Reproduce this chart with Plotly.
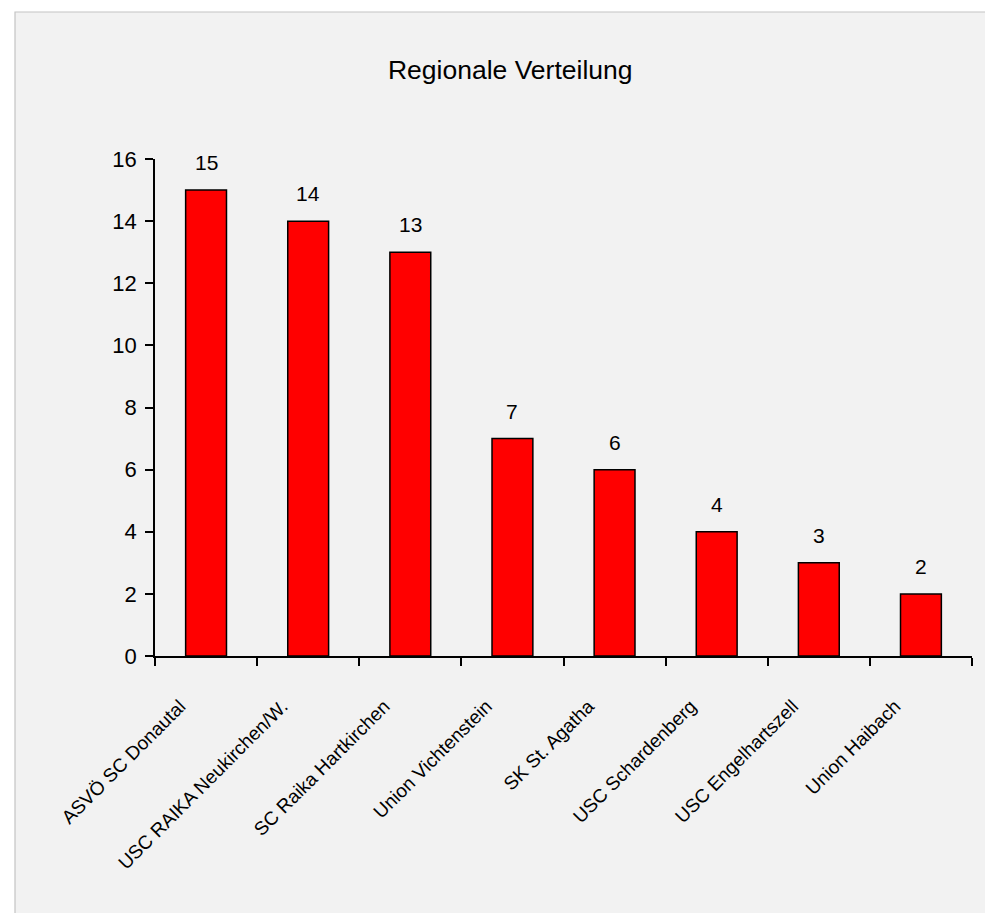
import plotly.graph_objects as go

categories = ["ASVÖ SC Donautal", "USC RAIKA Neukirchen/W.", "SC Raika Hartkirchen",
              "Union Vichtenstein", "SK St. Agatha", "USC Schardenberg",
              "USC Engelhartszell", "Union Haibach"]
values = [15, 14, 13, 7, 6, 4, 3, 2]
y_ticks = [0, 2, 4, 6, 8, 10, 12, 14, 16]
title_text = "Regionale Verteilung"

W, H = 985, 913
L, R, T, B = 155, 13, 159, 257
pw, ph = W - L - R, H - T - B

def px_x(px):
    return (px - L) / pw

def px_y(py):
    return (H - B - py) / ph

font_family = "Liberation Sans, Arial, sans-serif"

fig = go.Figure(go.Bar(
    x=categories, y=values,
    marker=dict(color="#ff0000", line=dict(color="#000000", width=1.5)),
    width=0.4,
    hoverinfo="x+y",
))

for c, v in zip(categories, values):
    fig.add_annotation(x=c, y=v, text=str(v), showarrow=False, xanchor="center",
                       yanchor="bottom", yshift=14,
                       font=dict(family=font_family, size=21, color="#000000"))

fig.add_shape(type="rect", xref="paper", yref="paper",
              x0=px_x(15), x1=px_x(1000), y0=px_y(1000), y1=px_y(12),
              fillcolor="#f2f2f2", line=dict(color="#c4c4c4", width=1.2),
              layer="below")

fig.update_layout(
    width=W, height=H,
    margin=dict(l=L, r=R, t=T, b=B, pad=0),
    paper_bgcolor="#ffffff",
    plot_bgcolor="rgba(0,0,0,0)",
    showlegend=False,
    title=dict(text=title_text, x=0.518, xanchor="center", y=1 - 70 / H, yanchor="middle",
               font=dict(family=font_family, size=26.5, color="#000000")),
    xaxis=dict(type="category", range=[-0.5, 7.5], showline=True, linecolor="#000000",
               linewidth=1.5, ticks="outside", ticklen=8, tickcolor="#000000", tickwidth=1.5,
               tickson="boundaries", tickangle=-45, showgrid=False, zeroline=False,
               ticklabelshift=-26, ticklabelstandoff=30,
               tickfont=dict(family=font_family, size=19, color="#000000")),
    yaxis=dict(range=[0, 16], tickvals=y_ticks, showline=True, linecolor="#000000",
               linewidth=1.5, ticks="outside", ticklen=8, tickcolor="#000000", tickwidth=1.5,
               showgrid=False, zeroline=False, ticklabelstandoff=4,
               tickfont=dict(family=font_family, size=22, color="#000000")),
)

fig.write_html("out.html", config={"displayModeBar": False},
               post_script="document.body.style.margin='0px';document.body.style.overflow='hidden';")
